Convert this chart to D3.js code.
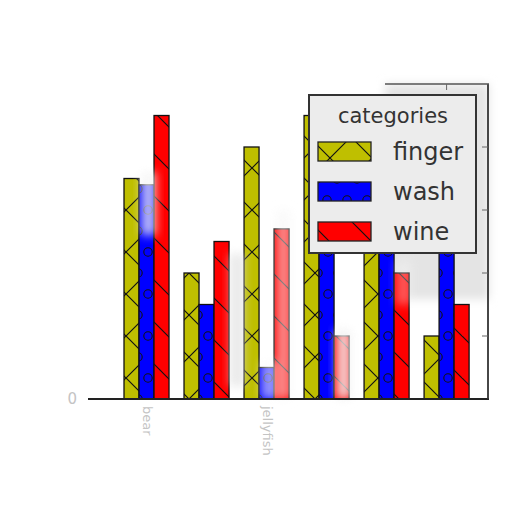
<!DOCTYPE html>
<html lang="en">
<head>
<meta charset="utf-8">
<title>categories bars</title>
<script src="https://cdn.jsdelivr.net/npm/d3@7/dist/d3.min.js"></script>
<style>
  body { margin: 0; background: #fff; }
  svg text { font-family: "DejaVu Sans", sans-serif; }
</style>
</head>
<body>
<script>
// data
var groupLabels = ["bear", "", "jellyfish", "", "", ""];
var seriesNames = ["finger", "wash", "wine"];
var finger = [3.5, 2.0, 4.0, 4.5, 4.0, 1.0];
var wash = [3.4, 1.5, 0.5, 3.2, 3.6, 3.5];
var wine = [4.5, 2.5, 2.7, 1.0, 2.0, 1.5];
var yTicks = [0, 1, 2, 3, 4, 5];

var colors = {finger: "#bfbf00", wash: "#0000ff", wine: "#ff0000"};
var values = {finger: finger, wash: wash, wine: wine};

var width = 512, height = 512;
var svg = d3.select("body").append("svg")
    .attr("width", width)
    .attr("height", height);

var x = d3.scaleLinear().domain([-0.975, 5.69]).range([88, 488]);
var y = d3.scaleLinear().domain([0, 5]).range([399, 84]);
var barW = 0.25;

// hatch patterns
var defs = svg.append("defs");
var p1 = defs.append("pattern").attr("id", "hatch-finger")
    .attr("patternUnits", "userSpaceOnUse").attr("width", 42).attr("height", 42);
p1.append("rect").attr("width", 42).attr("height", 42).attr("fill", colors.finger);
p1.append("path").attr("d", "M0,0L42,42M0,42L42,0M-21,21L21,63M21,-21L63,21M-21,21L21,-21M21,63L63,21")
    .attr("stroke", "#111").attr("stroke-width", 1.2).attr("fill", "none");

var p2 = defs.append("pattern").attr("id", "hatch-wash")
    .attr("patternUnits", "userSpaceOnUse").attr("width", 20).attr("height", 42)
    .attr("x", 8);
p2.append("rect").attr("width", 20).attr("height", 42).attr("fill", colors.wash);
[[0, 0], [20, 0], [10, 21], [0, 42], [20, 42]].forEach(function(c) {
  p2.append("circle").attr("cx", c[0]).attr("cy", c[1]).attr("r", 4.2)
    .attr("fill", "none").attr("stroke", "#111").attr("stroke-width", 1.1);
});

var p3 = defs.append("pattern").attr("id", "hatch-wine")
    .attr("patternUnits", "userSpaceOnUse").attr("width", 42).attr("height", 42);
p3.append("rect").attr("width", 42).attr("height", 42).attr("fill", colors.wine);
p3.append("path").attr("d", "M0,0L42,42M-21,21L0,42M21,-21L63,21")
    .attr("stroke", "#111").attr("stroke-width", 1.2).attr("fill", "none");

var blur = defs.append("filter").attr("id", "fog")
    .attr("x", "-50%").attr("y", "-50%").attr("width", "200%").attr("height", "200%");
blur.append("feGaussianBlur").attr("stdDeviation", 5);

// soft gray shade behind legend
svg.append("rect")
    .attr("x", 385).attr("y", 84).attr("width", 104).attr("height", 215)
    .attr("fill", "#e4e4e4").attr("filter", "url(#fog)");

// bars
seriesNames.forEach(function(s, k) {
  svg.append("g").selectAll("rect")
    .data(values[s])
    .enter().append("rect")
    .attr("x", function(d, i) { return x(i + (k - 1) * barW - barW / 2); })
    .attr("width", x(barW) - x(0))
    .attr("y", function(d) { return y(d); })
    .attr("height", function(d) { return y(0) - y(d); })
    .attr("fill", "url(#hatch-" + s + ")")
    .attr("stroke", "#111")
    .attr("stroke-width", 1.3);
});

// smudges of the sketch look: [group, slot, from value, to value, opacity, colour]
var smudges = [[0, 0, 2.6, 3.6, 0.75, "#f4f4f4"], [2, 0, 0, 0.6, 0.6, "#fafafa"],
               [2, 1, 0, 3.0, 0.55, "#f6f6f6"], [3, 1, 0, 1.1, 0.85, "#f2f2f2"],
               [1, 1.9, 0.2, 2.3, 0.6, "#dcdcdc"], [4, 1, 1.5, 2.2, 0.35, "#fafafa"]];
svg.append("g").selectAll("rect")
    .data(smudges)
    .enter().append("rect")
    .attr("x", function(d) { return x(d[0] + d[1] * barW - barW / 2) + 2; })
    .attr("width", x(barW) - x(0))
    .attr("y", function(d) { return y(d[3]); })
    .attr("height", function(d) { return y(d[2]) - y(d[3]); })
    .attr("fill", function(d) { return d[5]; })
    .attr("opacity", function(d) { return d[4]; })
    .attr("filter", "url(#fog)");

// spines
svg.append("line")
    .attr("x1", 88).attr("x2", 489).attr("y1", y(0)).attr("y2", y(0))
    .attr("stroke", "#222").attr("stroke-width", 2);
svg.append("line")
    .attr("x1", 488).attr("x2", 488).attr("y1", y(5)).attr("y2", y(0))
    .attr("stroke", "#333").attr("stroke-width", 1.8);
svg.append("line")
    .attr("x1", 385).attr("x2", 489).attr("y1", y(5)).attr("y2", y(5))
    .attr("stroke", "#555").attr("stroke-width", 1.5);

// right side ticks
svg.append("g").selectAll("line")
    .data(yTicks.slice(1, 5))
    .enter().append("line")
    .attr("x1", 482).attr("x2", 488)
    .attr("y1", function(d) { return y(d); })
    .attr("y2", function(d) { return y(d); })
    .attr("stroke", "#666").attr("stroke-width", 1);
svg.append("line")
    .attr("x1", x(5)).attr("x2", x(5)).attr("y1", y(5)).attr("y2", y(5) + 6)
    .attr("stroke", "#666").attr("stroke-width", 1);

// y label 0
svg.append("text")
    .attr("x", 77).attr("y", y(0) + 5)
    .attr("text-anchor", "end")
    .attr("font-size", 15)
    .attr("fill", "#c4c4c4")
    .text(yTicks[0]);

// x labels (faint, rotated)
svg.append("g").selectAll("text")
    .data(groupLabels)
    .enter().append("text")
    .attr("transform", function(d, i) { return "translate(" + (x(i) - 4) + "," + 406 + ") rotate(90)"; })
    .attr("font-size", 13)
    .attr("fill", "#c4c4c4")
    .text(function(d) { return d; });

// legend
var lg = svg.append("g").attr("transform", "translate(309,95)");
lg.append("rect")
    .attr("width", 167).attr("height", 158)
    .attr("fill", "#ececec").attr("stroke", "#333").attr("stroke-width", 2);
lg.append("text")
    .attr("x", 84).attr("y", 28)
    .attr("text-anchor", "middle")
    .attr("font-size", 21)
    .attr("fill", "#333")
    .text("categories");
seriesNames.forEach(function(s, k) {
  lg.append("rect")
    .attr("x", 9).attr("y", 47 + k * 40)
    .attr("width", 53).attr("height", 19)
    .attr("fill", "url(#hatch-" + s + ")")
    .attr("stroke", "#222").attr("stroke-width", 1.3);
  lg.append("text")
    .attr("x", 84).attr("y", 65 + k * 40)
    .attr("font-size", 24)
    .attr("fill", "#333")
    .text(s);
});
</script>
</body>
</html>
